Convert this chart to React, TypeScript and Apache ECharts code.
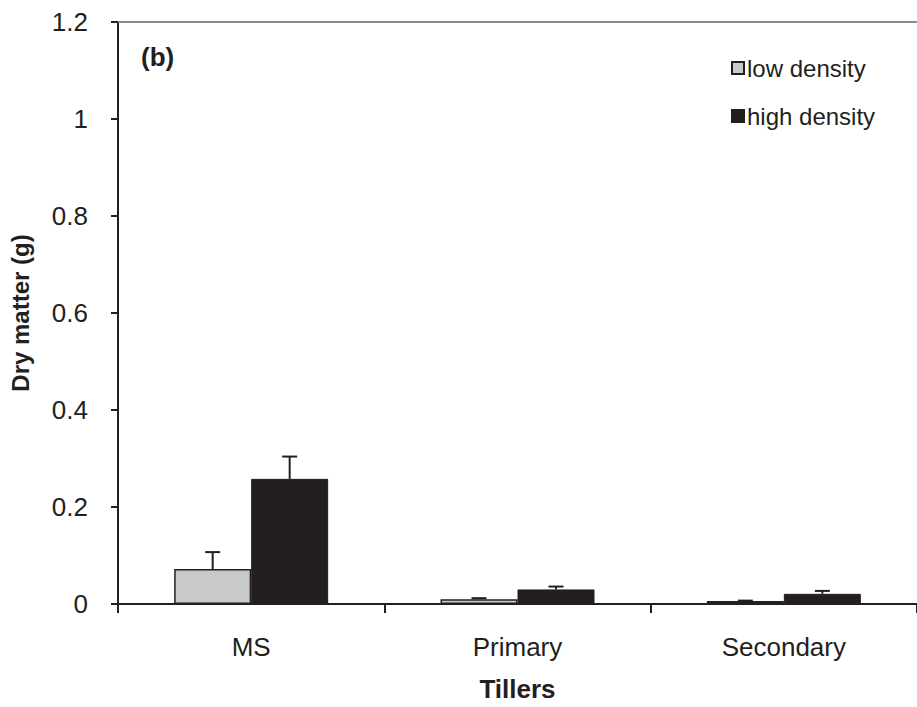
import React, { useEffect, useRef } from "react";
import * as echarts from "echarts";

const categories = ["MS", "Primary", "Secondary"];
const lowDensity = [0.072, 0.01, 0.006];
const lowErr = [0.035, 0.002, 0.001];
const highDensity = [0.258, 0.03, 0.021];
const highErr = [0.046, 0.006, 0.006];
const yTicks = [0, 0.2, 0.4, 0.6, 0.8, 1, 1.2];

const DARK = "#231f20";
const LIGHT = "#c8c9ca";
const BAR_W = 77;
const FONT = "Liberation Sans, Arial, sans-serif";

export default function App() {
  const ref = useRef<HTMLDivElement>(null);
  useEffect(() => {
    if (!ref.current) return;
    const chart = echarts.init(ref.current, undefined, { renderer: "svg" });
    const errData: any[] = [];
    categories.forEach((_, i) => {
      errData.push([i, lowDensity[i], lowDensity[i] + lowErr[i], -1]);
      errData.push([i, highDensity[i], highDensity[i] + highErr[i], 1]);
    });
    chart.setOption({
      animation: false,
      textStyle: { fontFamily: FONT },
      grid: { left: 116, top: 22, right: -3, bottom: 101, containLabel: false },
      legend: {
        orient: "vertical",
        left: 731,
        top: 56,
        padding: 0,
        itemWidth: 12,
        itemHeight: 12,
        itemGap: 24,
        icon: "rect",
        textStyle: { fontSize: 24, lineHeight: 24, color: DARK, padding: [0, 0, 0, -2] },
        data: ["low density", "high density"],
      },
      xAxis: [
        {
          type: "category",
          data: categories,
          name: "Tillers",
          nameLocation: "middle",
          nameGap: 72,
          nameTextStyle: { fontSize: 26, fontWeight: "bold", color: DARK },
          axisLine: { lineStyle: { color: DARK, width: 2 } },
          axisTick: { show: true, alignWithLabel: false, length: 9, lineStyle: { color: DARK, width: 2 } },
          axisLabel: { fontSize: 26, color: DARK, margin: 30 },
        },
        {
          type: "category",
          data: categories,
          position: "top",
          axisLine: { lineStyle: { color: "#8a8a8a", width: 2 } },
          axisTick: { show: false },
          axisLabel: { show: false },
        },
      ],
      yAxis: {
        type: "value",
        min: 0,
        max: 1.2,
        interval: 0.2,
        name: "Dry matter (g)",
        nameLocation: "middle",
        nameGap: 86,
        nameTextStyle: { fontSize: 24, fontWeight: "bold", color: DARK },
        axisLine: { show: true, lineStyle: { color: DARK, width: 2 } },
        axisTick: { show: true, length: 7, lineStyle: { color: DARK, width: 2 } },
        splitLine: { show: false },
        axisLabel: {
          fontSize: 26,
          color: DARK,
          margin: 30,
          formatter: (v: number) => {
            const t = yTicks.find((x) => Math.abs(x - v) < 1e-9);
            return t === undefined ? "" : String(t);
          },
        },
      },
      series: [
        {
          name: "low density",
          type: "bar",
          data: lowDensity,
          barWidth: BAR_W,
          barGap: "0%",
          itemStyle: { color: LIGHT, borderColor: DARK, borderWidth: 1.5 },
        },
        {
          name: "high density",
          type: "bar",
          data: highDensity,
          barWidth: BAR_W,
          barGap: "0%",
          itemStyle: { color: DARK, borderColor: DARK, borderWidth: 1 },
        },
        {
          type: "custom",
          z: 5,
          data: errData,
          encode: { x: 0, y: [1, 2] },
          renderItem: (params: any, api: any) => {
            const idx = api.value(0);
            const side = api.value(3);
            const base = api.coord([idx, api.value(1)]);
            const top = api.coord([idx, api.value(2)]);
            const x = base[0] + side * (BAR_W / 2);
            const cap = 7.5;
            const style = { stroke: DARK, lineWidth: 2 };
            return {
              type: "group",
              children: [
                { type: "line", shape: { x1: x, y1: base[1], x2: x, y2: top[1] }, style },
                { type: "line", shape: { x1: x - cap, y1: top[1], x2: x + cap, y2: top[1] }, style },
              ],
            };
          },
        },
      ],
      graphic: [
        {
          type: "text",
          left: 141,
          top: 44,
          style: { text: "(b)", fontSize: 26, fontWeight: "bold", fill: DARK, fontFamily: FONT },
        },
      ],
    });
    return () => chart.dispose();
  }, []);
  return <div ref={ref} style={{ width: 917, height: 707, position: "absolute", left: 0, top: 0 }} />;
}
